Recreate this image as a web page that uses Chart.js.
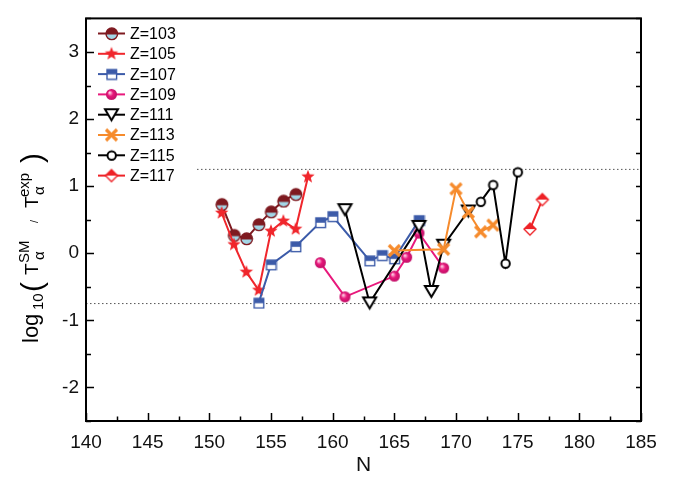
<!DOCTYPE html>
<html>
<head>
<meta charset="utf-8">
<script src="https://cdn.jsdelivr.net/npm/chart.js@4.4.0/dist/chart.umd.min.js"></script>
<style>
  body { margin: 0; background: #fff; }
  #wrap { width: 673px; height: 483px; }
</style>
</head>
<body>
<div id="wrap"><canvas id="chart" width="673" height="483"></canvas></div>
<script>
// data (N vs log10 ratio)
const n103 = [151, 152, 153, 154, 155, 156, 157];
const v103 = [0.73, 0.27, 0.22, 0.43, 0.62, 0.78, 0.88];
const n105 = [151, 152, 153, 154, 155, 156, 157, 158];
const v105 = [0.60, 0.13, -0.28, -0.55, 0.33, 0.48, 0.36, 1.14];
const n107 = [154, 155, 157, 159, 160, 163, 164, 165, 167];
const v107 = [-0.74, -0.17, 0.10, 0.46, 0.55, -0.11, -0.03, -0.08, 0.49];
const n109 = [159, 161, 165, 166, 167, 169];
const v109 = [-0.14, -0.65, -0.34, -0.06, 0.30, -0.22];
const n111 = [161, 163, 167, 168, 169, 171];
const v111 = [0.65, -0.74, 0.40, -0.57, 0.12, 0.63];
const n113 = [165, 169, 170, 171, 172, 173];
const v113 = [0.04, 0.06, 0.96, 0.61, 0.32, 0.42];
const n115 = [172, 173, 174, 175];
const v115 = [0.77, 1.02, -0.15, 1.21];
const n117 = [176, 177];
const v117 = [0.36, 0.80];

const seriesNames = ['Z=103', 'Z=105', 'Z=107', 'Z=109', 'Z=111', 'Z=113', 'Z=115', 'Z=117'];
const refLevels = [1.25, -0.75];
const xTicks = [140, 145, 150, 155, 160, 165, 170, 175, 180, 185];
const yTicks = [-2, -1, 0, 1, 2, 3];

const FONT = 'Liberation Sans, Arial, sans-serif';

// marker images
function makeCanvas(size, draw) {
  let c = document.createElement('canvas');
  c.width = size; c.height = size;
  let g = c.getContext('2d');
  g.translate(size / 2, size / 2);
  draw(g);
  return c;
}

function halfCircle(r, top, bottom, edge) {
  return makeCanvas(2 * r + 4, g => {
    g.beginPath(); g.arc(0, 0, r, Math.PI, 0); g.closePath(); g.fillStyle = top; g.fill();
    g.beginPath(); g.arc(0, 0, r, 0, Math.PI); g.closePath(); g.fillStyle = bottom; g.fill();
    g.beginPath(); g.arc(0, 0, r, 0, 2 * Math.PI);
    g.moveTo(-r, 0); g.lineTo(r, 0);
    g.lineWidth = 1.4; g.strokeStyle = edge; g.stroke();
  });
}

function star(r, color) {
  return makeCanvas(2 * r + 4, g => {
    g.beginPath();
    for (let i = 0; i < 10; i++) {
      let rad = i % 2 === 0 ? r : r * 0.42;
      let a = -Math.PI / 2 + i * Math.PI / 5;
      g.lineTo(rad * Math.cos(a), rad * Math.sin(a));
    }
    g.closePath();
    g.fillStyle = color; g.fill();
  });
}

function halfSquare(h, color) {
  return makeCanvas(2 * h + 4, g => {
    g.fillStyle = '#fff'; g.fillRect(-h, -h, 2 * h, 2 * h);
    g.fillStyle = color; g.fillRect(-h, -h, 2 * h, h);
    g.lineWidth = 1.4; g.strokeStyle = color; g.strokeRect(-h, -h, 2 * h, 2 * h);
  });
}

function ball(r, color) {
  return makeCanvas(2 * r + 4, g => {
    let grd = g.createRadialGradient(-r * 0.35, -r * 0.35, 0.5, 0, 0, r);
    grd.addColorStop(0, '#ffd0e6');
    grd.addColorStop(0.45, color);
    grd.addColorStop(1, '#c00e66');
    g.beginPath(); g.arc(0, 0, r, 0, 2 * Math.PI);
    g.fillStyle = grd; g.fill();
  });
}

function triDown(w, color) {
  return makeCanvas(w + 6, g => {
    let h = w * 0.85;
    g.beginPath();
    g.moveTo(-w / 2, -h / 2); g.lineTo(w / 2, -h / 2); g.lineTo(0, h / 2);
    g.closePath();
    g.fillStyle = '#fff'; g.fill();
    g.lineWidth = 2; g.strokeStyle = color; g.lineJoin = 'miter'; g.stroke();
  });
}

function cross(r, color) {
  return makeCanvas(2 * r + 6, g => {
    g.beginPath();
    g.moveTo(-r, -r); g.lineTo(r, r);
    g.moveTo(-r, r); g.lineTo(r, -r);
    g.lineWidth = 3.2; g.strokeStyle = color; g.stroke();
  });
}

function openCircle(r, color) {
  return makeCanvas(2 * r + 5, g => {
    g.beginPath(); g.arc(0, 0, r, 0, 2 * Math.PI);
    g.fillStyle = '#fff'; g.fill();
    g.lineWidth = 2; g.strokeStyle = color; g.stroke();
  });
}

function halfDiamond(h, color) {
  return makeCanvas(2 * h + 4, g => {
    g.beginPath(); g.moveTo(-h, 0); g.lineTo(0, -h); g.lineTo(h, 0); g.closePath();
    g.fillStyle = color; g.fill();
    g.beginPath(); g.moveTo(-h, 0); g.lineTo(0, h); g.lineTo(h, 0); g.closePath();
    g.fillStyle = '#fff'; g.fill();
    g.beginPath(); g.moveTo(-h, 0); g.lineTo(0, -h); g.lineTo(h, 0); g.lineTo(0, h); g.closePath();
    g.lineWidth = 1.4; g.strokeStyle = color; g.stroke();
  });
}

const colors = ['#7e1a20', '#f0262c', '#3c5ba9', '#e8197c', '#000000', '#f68b2c', '#000000', '#ee2227'];
const markers = [
  halfCircle(5.8, '#7e1a20', '#a3d6e6', '#7e1a20'),
  star(7, '#f0262c'),
  halfSquare(4.8, '#3c5ba9'),
  ball(5.5, '#e8197c'),
  triDown(13, '#000'),
  cross(5.5, '#f68b2c'),
  openCircle(4.2, '#000'),
  halfDiamond(6, '#ee2227')
];

function pts(xs, ys) {
  return xs.map((x, i) => ({ x: x, y: ys[i] }));
}

const allN = [n103, n105, n107, n109, n111, n113, n115, n117];
const allV = [v103, v105, v107, v109, v111, v113, v115, v117];

let datasets = [];
// dotted reference lines
datasets.push({
  data: [{ x: 149, y: refLevels[0] }, { x: 185, y: refLevels[0] }],
  borderColor: '#555', borderWidth: 1, borderDash: [1.5, 2.5], pointRadius: 0, order: 20
});
datasets.push({
  data: [{ x: 140, y: refLevels[1] }, { x: 185, y: refLevels[1] }],
  borderColor: '#555', borderWidth: 1, borderDash: [1.5, 2.5], pointRadius: 0, order: 20
});
seriesNames.forEach((name, i) => {
  datasets.push({
    label: name,
    data: pts(allN[i], allV[i]),
    borderColor: colors[i],
    borderWidth: 2,
    pointStyle: markers[i],
    pointRadius: 6,
    order: 10 - i
  });
});

// frame and inward ticks
const framePlugin = {
  id: 'frame',
  afterDatasetsDraw(chart) {
    let ctx = chart.ctx, a = chart.chartArea;
    let xs = chart.scales.x, ys = chart.scales.y;
    ctx.save();
    ctx.strokeStyle = '#000';
    ctx.lineWidth = 1.5;
    ctx.beginPath();
    for (let v = 140; v <= 185; v += 2.5) {
      let px = Math.round(xs.getPixelForValue(v)) + 0.5;
      let len = v % 5 === 0 ? 8 : 4.5;
      ctx.moveTo(px, a.bottom); ctx.lineTo(px, a.bottom - len);
    }
    for (let v = -2.5; v <= 3.5; v += 0.5) {
      let py = Math.round(ys.getPixelForValue(v)) + 0.5;
      let len = Number.isInteger(v) ? 8 : 5;
      ctx.moveTo(a.left, py); ctx.lineTo(a.left + len, py);
      ctx.moveTo(a.right, py); ctx.lineTo(a.right - 5, py);
    }
    ctx.stroke();
    ctx.lineWidth = 2;
    ctx.strokeRect(a.left, a.top, a.right - a.left, a.bottom - a.top);
    ctx.restore();
  }
};

// legend inside the plot, line + marker + text
const legendPlugin = {
  id: 'innerLegend',
  afterDatasetsDraw(chart) {
    let ctx = chart.ctx;
    ctx.save();
    ctx.font = '16px ' + FONT;
    ctx.textBaseline = 'middle';
    ctx.fillStyle = '#000';
    seriesNames.forEach((name, i) => {
      let y = 33.5 + i * 20.3;
      ctx.beginPath();
      ctx.moveTo(98, y); ctx.lineTo(125, y);
      ctx.lineWidth = 2; ctx.strokeStyle = colors[i]; ctx.stroke();
      let m = markers[i];
      ctx.drawImage(m, 111.5 - m.width / 2, y - m.height / 2);
      ctx.fillText(name, 130, y + 1);
    });
    ctx.restore();
  }
};

// rotated y title with sub/superscripts
const yTitlePlugin = {
  id: 'yTitle',
  afterDraw(chart) {
    let ctx = chart.ctx;
    ctx.save();
    ctx.translate(38, 343);
    ctx.rotate(-Math.PI / 2);
    ctx.fillStyle = '#000';
    ctx.textBaseline = 'alphabetic';
    const run = (t, u, dy, size) => {
      ctx.font = size + 'px ' + FONT;
      ctx.fillText(t, u, dy);
    };
    run('log', 0, 0, 22);
    run('10', 33, 5, 15);
    run('(', 51, 4, 30);
    run('T', 68, 0, 19);
    run('SM', 80, -9, 15);
    run('\u03b1', 83, 6, 15);
    run('/', 120, 0, 11);
    run('T', 135, 0, 19);
    run('exp', 146, -9, 15);
    run('\u03b1', 148, 6, 15);
    run(')', 180, 4, 30);
    ctx.restore();
  }
};

const ctx = document.getElementById('chart');
const chart = new Chart(ctx, {
  type: 'line',
  data: { datasets: datasets },
  options: {
    responsive: false,
    animation: false,
    layout: { padding: { top: 13, right: 32, left: 0, bottom: 0 } },
    plugins: { legend: { display: false }, tooltip: { enabled: false } },
    scales: {
      x: {
        type: 'linear', min: 140, max: 185,
        afterBuildTicks: s => { s.ticks = xTicks.map(v => ({ value: v })); },
        afterFit: s => { s.height = 62; },
        grid: { display: false, drawTicks: false },
        border: { display: false },
        ticks: { font: { size: 19, family: FONT }, color: '#111', padding: 10, maxRotation: 0, autoSkip: false },
        title: { display: true, text: 'N', font: { size: 21, family: FONT }, color: '#111', padding: { top: 0, bottom: 5 } }
      },
      y: {
        type: 'linear', min: -2.5, max: 3.5,
        afterBuildTicks: s => { s.ticks = yTicks.map(v => ({ value: v })); },
        afterFit: s => { s.width = 86; },
        grid: { display: false, drawTicks: false },
        border: { display: false },
        ticks: { font: { size: 19, family: FONT }, color: '#111', padding: 7 }
      }
    }
  },
  plugins: [framePlugin, legendPlugin, yTitlePlugin]
});
</script>
</body>
</html>
